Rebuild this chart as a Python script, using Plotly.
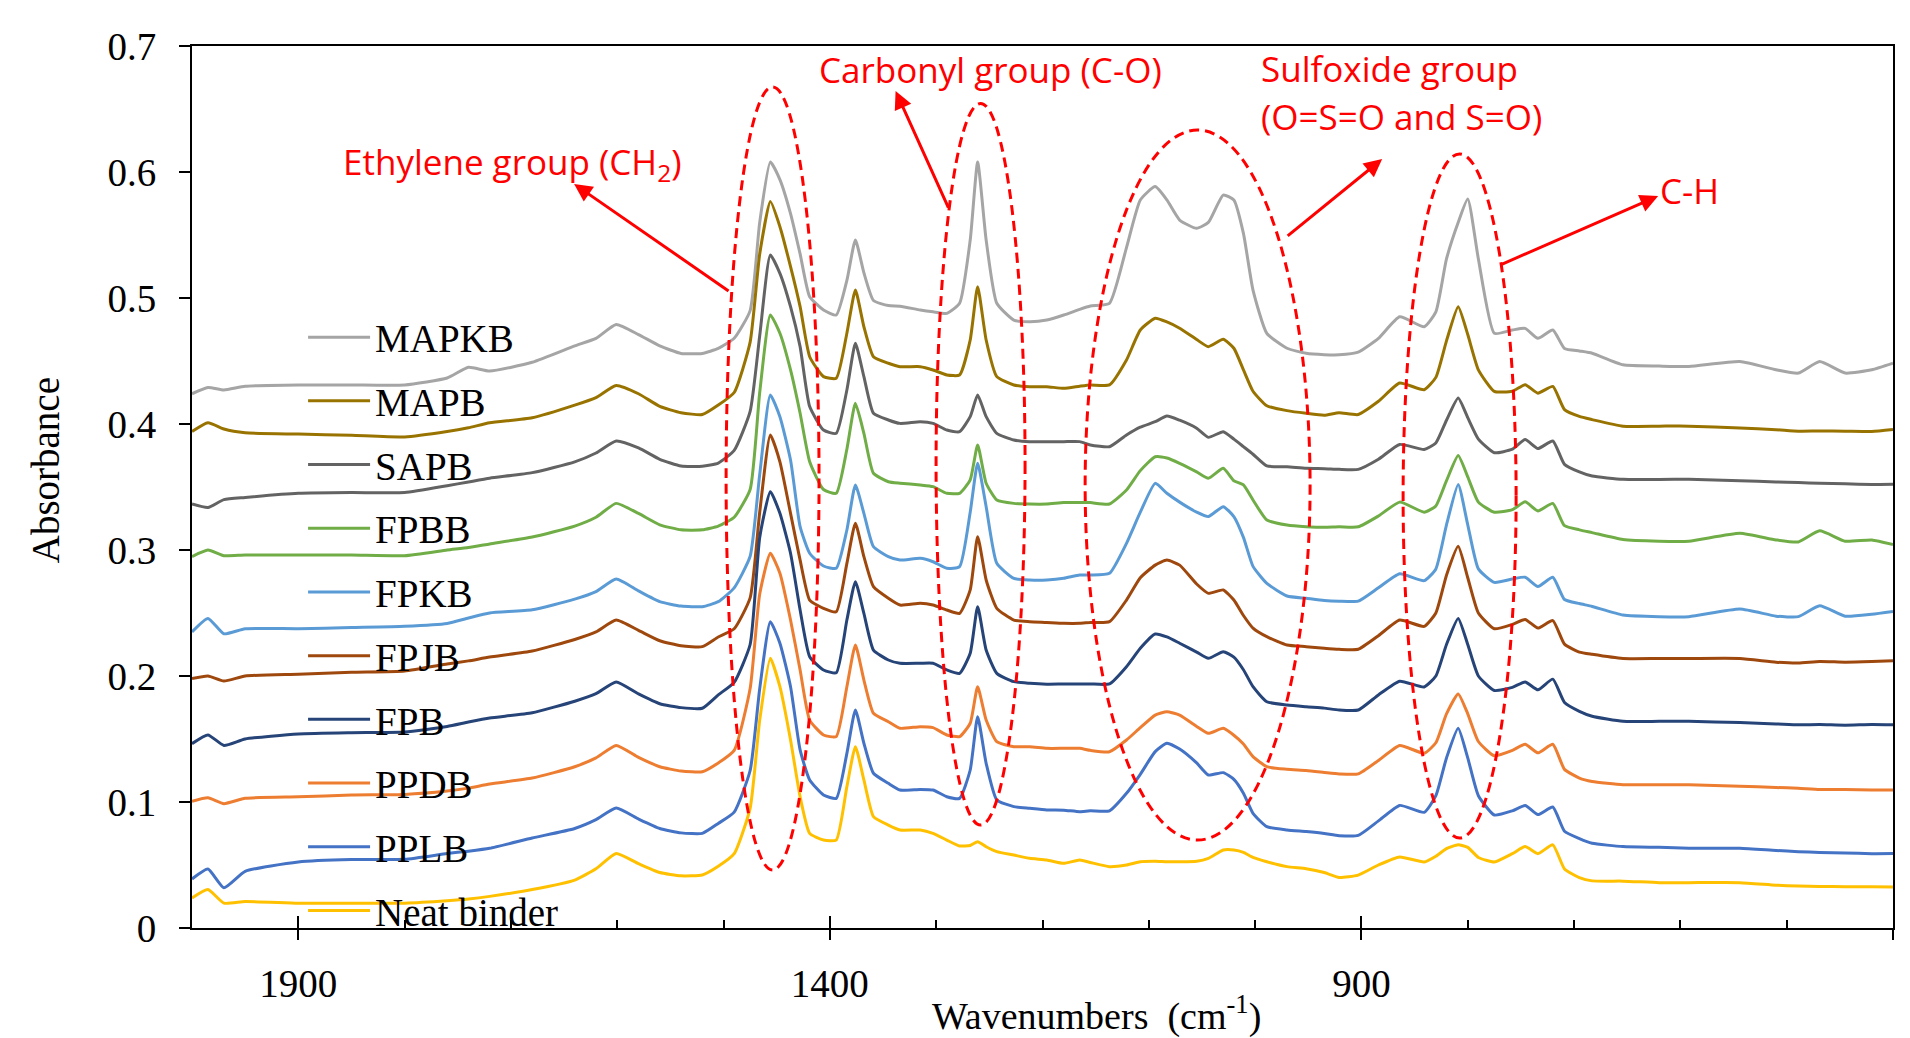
import plotly.graph_objects as go

wavenumbers = [2000, 1985, 1970, 1950, 1900, 1850, 1800, 1760, 1740, 1720,
               1680, 1640, 1620, 1601, 1580, 1560, 1540, 1520, 1505, 1490,
               1475, 1466, 1456, 1447, 1437, 1428, 1419, 1406, 1394, 1384,
               1376, 1368, 1359, 1345, 1334, 1315, 1303, 1290, 1278, 1268,
               1261, 1253, 1243, 1227, 1212, 1196, 1180, 1165, 1155, 1137,
               1121, 1108, 1094, 1083, 1071, 1055, 1044, 1030, 1020, 1011,
               1002, 989, 970, 952, 935, 921, 903, 884, 864, 841,
               830, 820, 809, 800, 790, 775, 758, 746, 734, 720,
               709, 695, 683, 654, 620, 592, 544, 510, 489, 469,
               445, 420, 400]

mapkb = [0.424, 0.429, 0.427, 0.430, 0.431, 0.431, 0.431, 0.4365, 0.445, 0.442,
         0.449, 0.462, 0.468, 0.479, 0.471, 0.462, 0.456, 0.456, 0.460, 0.468,
         0.490, 0.560, 0.608, 0.594, 0.567, 0.535, 0.501, 0.4905, 0.4865, 0.514,
         0.546, 0.520, 0.498, 0.494, 0.4935, 0.4905, 0.489, 0.4878, 0.4958, 0.546,
         0.608, 0.546, 0.4958, 0.4825, 0.4812, 0.4825, 0.4865, 0.491, 0.4936, 0.4958,
         0.540, 0.5778, 0.5884, 0.5778, 0.5619, 0.5553, 0.560, 0.5817, 0.5778, 0.5513,
         0.5063, 0.472, 0.4601, 0.4561, 0.455, 0.4549, 0.457, 0.468, 0.4851, 0.4772,
         0.489, 0.531, 0.560, 0.5786, 0.531, 0.472, 0.4746, 0.4759, 0.468, 0.4746,
         0.460, 0.458, 0.4562, 0.447, 0.446, 0.4456, 0.4496, 0.443, 0.4404, 0.4496,
         0.4404, 0.443, 0.4483]

mapb = [0.394, 0.401, 0.396, 0.393, 0.392, 0.391, 0.3897, 0.394, 0.397, 0.401,
        0.405, 0.415, 0.421, 0.4306, 0.424, 0.414, 0.409, 0.4075, 0.415, 0.425,
        0.465, 0.535, 0.5765, 0.5566, 0.5249, 0.4931, 0.4534, 0.4376, 0.4363, 0.472,
        0.5063, 0.4772, 0.4534, 0.4482, 0.4455, 0.4455, 0.4429, 0.4389, 0.4389, 0.4667,
        0.509, 0.4667, 0.4376, 0.431, 0.4296, 0.4296, 0.4283, 0.430, 0.431, 0.431,
        0.4508, 0.4746, 0.4839, 0.481, 0.476, 0.467, 0.4614, 0.4672, 0.4601, 0.443,
        0.426, 0.4145, 0.4106, 0.4085, 0.407, 0.409, 0.4075, 0.418, 0.4325, 0.4272,
        0.437, 0.466, 0.493, 0.471, 0.443, 0.4259, 0.426, 0.4312, 0.4245, 0.4298,
        0.4114, 0.406, 0.4035, 0.3983, 0.3983, 0.3983, 0.3969, 0.3955, 0.3943, 0.3945,
        0.3943, 0.394, 0.3956]

sapb = [0.3365, 0.3337, 0.340, 0.3417, 0.345, 0.3456, 0.3456, 0.351, 0.354, 0.357,
        0.3614, 0.370, 0.377, 0.3865, 0.381, 0.372, 0.3667, 0.3665, 0.369, 0.379,
        0.410, 0.470, 0.5341, 0.5196, 0.4931, 0.4614, 0.4138, 0.3952, 0.3926, 0.427,
        0.464, 0.4376, 0.4085, 0.4032, 0.4005, 0.4018, 0.4005, 0.3952, 0.3939, 0.4058,
        0.423, 0.4058, 0.3926, 0.3873, 0.386, 0.386, 0.386, 0.386, 0.3833, 0.382,
        0.3913, 0.3975, 0.4018, 0.4063, 0.403, 0.3966, 0.3894, 0.3939, 0.388, 0.382,
        0.376, 0.3667, 0.3661, 0.3648, 0.3645, 0.364, 0.364, 0.372, 0.3838, 0.3798,
        0.385, 0.403, 0.4206, 0.405, 0.388, 0.3772, 0.380, 0.3877, 0.3805, 0.3865,
        0.368, 0.362, 0.3587, 0.3561, 0.356, 0.3561, 0.355, 0.354, 0.3535, 0.353,
        0.3525, 0.352, 0.3522]

fpbb = [0.2948, 0.300, 0.2955, 0.296, 0.296, 0.296, 0.2955, 0.300, 0.302, 0.3048,
        0.3103, 0.319, 0.326, 0.337, 0.329, 0.320, 0.316, 0.316, 0.319, 0.326,
        0.348, 0.425, 0.4865, 0.472, 0.4429, 0.4085, 0.370, 0.348, 0.345, 0.380,
        0.4164, 0.3926, 0.3609, 0.3542, 0.353, 0.3516, 0.3503, 0.345, 0.345, 0.3556,
        0.3833, 0.353, 0.3397, 0.337, 0.3365, 0.3365, 0.3376, 0.3376, 0.3376, 0.3365,
        0.3476, 0.363, 0.374, 0.373, 0.3688, 0.362, 0.3569, 0.3648, 0.355, 0.3516,
        0.3397, 0.3238, 0.3198, 0.3185, 0.318, 0.3184, 0.3184, 0.327, 0.338, 0.330,
        0.335, 0.355, 0.375, 0.358, 0.338, 0.330, 0.332, 0.3383, 0.331, 0.337,
        0.3193, 0.316, 0.3138, 0.3083, 0.307, 0.307, 0.3133, 0.308, 0.3064, 0.3152,
        0.307, 0.308, 0.3043]

fpkb = [0.235, 0.2457, 0.2335, 0.2375, 0.2375, 0.2385, 0.2395, 0.2417, 0.246, 0.250,
        0.2525, 0.261, 0.267, 0.277, 0.2675, 0.259, 0.2555, 0.255, 0.259, 0.270,
        0.295, 0.360, 0.423, 0.4058, 0.3714, 0.3185, 0.2974, 0.2873, 0.2855, 0.3159,
        0.3516, 0.3291, 0.3026, 0.2947, 0.292, 0.2934, 0.2907, 0.2855, 0.2868, 0.330,
        0.3688, 0.3344, 0.2894, 0.2775, 0.2762, 0.2762, 0.2775, 0.2802, 0.2802, 0.2815,
        0.3053, 0.330, 0.3529, 0.345, 0.338, 0.330, 0.3265, 0.3344, 0.3265, 0.310,
        0.287, 0.2735, 0.2635, 0.2617, 0.260, 0.2594, 0.2594, 0.270, 0.2811, 0.2757,
        0.285, 0.320, 0.352, 0.320, 0.285, 0.2743, 0.277, 0.2784, 0.271, 0.2784,
        0.2607, 0.2575, 0.2552, 0.2484, 0.2471, 0.2471, 0.2531, 0.2475, 0.2471, 0.2558,
        0.2475, 0.249, 0.2512]

fpjb = [0.198, 0.200, 0.196, 0.200, 0.2014, 0.203, 0.204, 0.2095, 0.212, 0.215,
        0.2198, 0.229, 0.235, 0.2444, 0.2362, 0.228, 0.224, 0.2233, 0.231, 0.2375,
        0.262, 0.330, 0.3913, 0.370, 0.3291, 0.292, 0.2603, 0.2537, 0.251, 0.2894,
        0.3212, 0.2947, 0.2709, 0.2617, 0.2563, 0.2577, 0.2563, 0.2524, 0.2497, 0.2683,
        0.3106, 0.2762, 0.2537, 0.2444, 0.2431, 0.2425, 0.2418, 0.2418, 0.2425, 0.2431,
        0.2603, 0.278, 0.288, 0.292, 0.288, 0.273, 0.2656, 0.2683, 0.2603, 0.248,
        0.238, 0.2312, 0.2246, 0.2233, 0.222, 0.2212, 0.2212, 0.232, 0.2444, 0.2394,
        0.250, 0.280, 0.3029, 0.278, 0.250, 0.2375, 0.241, 0.2449, 0.238, 0.244,
        0.2253, 0.219, 0.2172, 0.2139, 0.2139, 0.2139, 0.2139, 0.211, 0.2103, 0.2115,
        0.211, 0.2115, 0.2122]

fpb = [0.1463, 0.1532, 0.1449, 0.150, 0.154, 0.155, 0.1555, 0.160, 0.1635, 0.1667,
       0.1708, 0.180, 0.186, 0.1953, 0.1858, 0.178, 0.1749, 0.1744, 0.185, 0.195,
       0.225, 0.310, 0.3463, 0.3291, 0.2974, 0.2524, 0.2153, 0.2048, 0.2026, 0.2444,
       0.2749, 0.2497, 0.2206, 0.2127, 0.2101, 0.2101, 0.2101, 0.2048, 0.2021, 0.218,
       0.255, 0.2206, 0.2021, 0.1955, 0.1942, 0.1935, 0.1937, 0.1937, 0.1937, 0.1937,
       0.2074, 0.222, 0.2333, 0.231, 0.226, 0.219, 0.214, 0.2193, 0.215, 0.205,
       0.1915, 0.1796, 0.177, 0.1756, 0.1745, 0.173, 0.173, 0.185, 0.1959, 0.1913,
       0.200, 0.225, 0.2457, 0.225, 0.200, 0.1885, 0.191, 0.1953, 0.189, 0.1975,
       0.179, 0.172, 0.1681, 0.164, 0.164, 0.164, 0.163, 0.162, 0.1613, 0.1615,
       0.161, 0.1615, 0.1613]

ppdb = [0.1006, 0.1033, 0.0987, 0.103, 0.1041, 0.1055, 0.106, 0.1087, 0.111, 0.1143,
        0.119, 0.128, 0.135, 0.1449, 0.1354, 0.128, 0.1246, 0.124, 0.131, 0.141,
        0.190, 0.265, 0.2974, 0.2815, 0.2444, 0.2048, 0.165, 0.1532, 0.1519, 0.1915,
        0.2246, 0.1968, 0.1704, 0.1637, 0.1585, 0.1598, 0.159, 0.1532, 0.1519, 0.1625,
        0.1915, 0.165, 0.1479, 0.1439, 0.1439, 0.1426, 0.1426, 0.1426, 0.141, 0.1399,
        0.1492, 0.159, 0.169, 0.1717, 0.169, 0.160, 0.1545, 0.1585, 0.153, 0.146,
        0.136, 0.128, 0.126, 0.125, 0.1235, 0.1223, 0.1223, 0.133, 0.1449, 0.1387,
        0.147, 0.170, 0.1858, 0.170, 0.148, 0.1367, 0.141, 0.1458, 0.139, 0.1458,
        0.1259, 0.119, 0.1163, 0.1137, 0.1137, 0.1137, 0.1125, 0.1115, 0.1109, 0.110,
        0.110, 0.1095, 0.1095]

pplb = [0.0389, 0.0468, 0.0319, 0.045, 0.0524, 0.0543, 0.0545, 0.0591, 0.061, 0.0633,
        0.0714, 0.079, 0.086, 0.0952, 0.0865, 0.079, 0.0755, 0.0751, 0.083, 0.092,
        0.125, 0.190, 0.2431, 0.226, 0.1915, 0.1413, 0.1175, 0.1056, 0.1029, 0.1386,
        0.173, 0.1466, 0.1228, 0.1148, 0.1095, 0.110, 0.1095, 0.1042, 0.1029, 0.1254,
        0.1677, 0.1307, 0.1016, 0.0963, 0.095, 0.0937, 0.0935, 0.0923, 0.093, 0.093,
        0.1069, 0.122, 0.140, 0.1466, 0.142, 0.131, 0.1214, 0.1233, 0.118, 0.107,
        0.091, 0.0804, 0.0778, 0.0765, 0.075, 0.0733, 0.0735, 0.085, 0.0973, 0.0918,
        0.105, 0.135, 0.1586, 0.135, 0.105, 0.0897, 0.093, 0.0973, 0.090, 0.096,
        0.0768, 0.071, 0.0673, 0.0646, 0.064, 0.0633, 0.0633, 0.0615, 0.0606, 0.060,
        0.0595, 0.059, 0.0591]

neat = [0.0238, 0.0305, 0.0197, 0.021, 0.0197, 0.0197, 0.0197, 0.0216, 0.023, 0.0251,
        0.0305, 0.038, 0.047, 0.0591, 0.051, 0.044, 0.0414, 0.0421, 0.049, 0.059,
        0.095, 0.165, 0.214, 0.1915, 0.1492, 0.1042, 0.0751, 0.0698, 0.0698, 0.1122,
        0.1439, 0.1175, 0.0884, 0.0817, 0.0778, 0.0778, 0.0751, 0.0698, 0.0651, 0.0655,
        0.0685, 0.0645, 0.0606, 0.0579, 0.0553, 0.054, 0.0513, 0.054, 0.052, 0.0487,
        0.050, 0.0526, 0.053, 0.0526, 0.0526, 0.053, 0.0553, 0.0619, 0.0619, 0.060,
        0.056, 0.0526, 0.0487, 0.047, 0.044, 0.0401, 0.042, 0.050, 0.0564, 0.0524,
        0.057, 0.063, 0.066, 0.064, 0.056, 0.0524, 0.059, 0.0646, 0.059, 0.066,
        0.0469, 0.040, 0.0374, 0.0372, 0.036, 0.036, 0.036, 0.034, 0.0333, 0.033,
        0.0328, 0.0327, 0.0325]

series_names = ["MAPKB", "MAPB", "SAPB", "FPBB", "FPKB", "FPJB", "FPB", "PPDB", "PPLB", "Neat binder"]
series_values = [mapkb, mapb, sapb, fpbb, fpkb, fpjb, fpb, ppdb, pplb, neat]
series_colors = ["#A5A5A5", "#997300", "#636363", "#70AD47", "#5B9BD5",
                 "#9E480E", "#264478", "#ED7D31", "#4472C4", "#FFC000"]

major_ticks = [1900, 1400, 900, 400]
minor_ticks = [1800, 1700, 1600, 1500, 1300, 1200, 1100, 1000, 800, 700, 600, 500]

fig = go.Figure()
for name, vals, color in zip(series_names, series_values, series_colors):
    fig.add_trace(go.Scatter(x=wavenumbers, y=vals, mode="lines", name=name,
                             legendgroup=name,
                             line=dict(color=color, width=3, shape="spline", smoothing=0.5)))

# empty trace hosting the overlay axis that carries the inner half of the major ticks
fig.add_trace(go.Scatter(x=[], y=[], xaxis="x2", yaxis="y", showlegend=False, hoverinfo="skip"))

SERIF = "Liberation Serif"
SANS = "Open Sans"
RED = "#FF0000"

# the page body has an 8px margin, so the figure is made 8px smaller
fig.update_layout(
    width=1902, height=1030,
    margin=dict(l=184, r=17, t=38, b=110),
    paper_bgcolor="white", plot_bgcolor="white",
    font=dict(family=SERIF, size=39, color="black"),
    showlegend=True,
    legend=dict(x=0.0653, y=0.706, xanchor="left", yanchor="top",
                bgcolor="rgba(0,0,0,0)", font=dict(family=SERIF, size=39, color="black"),
                tracegroupgap=10, traceorder="grouped", itemwidth=62),
    xaxis=dict(range=[2000, 400], autorange=False, tickmode="array", tickvals=major_ticks,
               ticks="outside", ticklen=10, tickwidth=2, tickcolor="black",
               showline=True, linewidth=2, linecolor="black", mirror=True,
               showgrid=False, zeroline=False, ticklabelstandoff=10,
               tickfont=dict(family=SERIF, size=39, color="black"),
               minor=dict(tickmode="array", tickvals=minor_ticks, ticks="inside", ticklen=8,
                          tickwidth=2, tickcolor="black", showgrid=False)),
    xaxis2=dict(range=[2000, 400], autorange=False, overlaying="x", anchor="y", side="bottom",
                tickmode="array", tickvals=major_ticks, ticks="inside", ticklen=12, tickwidth=2,
                tickcolor="black", showticklabels=False, showline=False, showgrid=False,
                zeroline=False),
    yaxis=dict(range=[0, 0.7], autorange=False, tick0=0, dtick=0.1,
               ticks="outside", ticklen=11, tickwidth=2, tickcolor="black",
               showline=True, linewidth=2, linecolor="black", mirror=True,
               showgrid=False, zeroline=False, ticklabelstandoff=15,
               tickfont=dict(family=SERIF, size=39, color="black")),
)

# dashed ellipses marking the bands
ellipses = [(1497.6, 1410.2, 0.046, 0.6675),
            (1300.1, 1216.4, 0.0817, 0.6544),
            (1159.9, 948.3, 0.0698, 0.6333),
            (860.8, 754.5, 0.0714, 0.6143)]
for x0, x1, y0, y1 in ellipses:
    fig.add_shape(type="circle", xref="x", yref="y", x0=x0, x1=x1, y0=y0, y1=y1,
                  line=dict(color=RED, width=3, dash="10px,6px"), layer="above")

# arrows: (tip x, tip y, tail x, tail y)
arrows = [(1640.6, 0.5905, 1493.9, 0.5048),
          (1338.2, 0.6643, 1287.9, 0.5706),
          (880.5, 0.6103, 970.8, 0.5484),
          (620.9, 0.581, 769.5, 0.5262)]
for tx, ty, sx, sy in arrows:
    fig.add_annotation(x=tx, y=ty, xref="x", yref="y", ax=sx, ay=sy, axref="x", ayref="y",
                       text="", showarrow=True, arrowhead=2, arrowsize=1.2, arrowwidth=3,
                       arrowcolor=RED, standoff=0, startstandoff=0)

labels = [("Ethylene group (CH<sub>2</sub>)", 1860, 0.607),
          ("Carbonyl group (C-O)", 1412, 0.681),
          ("Sulfoxide group", 996, 0.682),
          ("(O=S=O and S=O)", 996, 0.644),
          ("C-H", 621, 0.585)]
for txt, x, y in labels:
    fig.add_annotation(x=x, y=y, xref="x", yref="y", text=txt, showarrow=False,
                       xanchor="left", yanchor="middle", align="left",
                       font=dict(family=SANS, size=35, color=RED))

fig.add_annotation(x=-0.0864, y=0.519, xref="paper", yref="paper", text="Absorbance",
                   textangle=-90, showarrow=False, xanchor="center", yanchor="middle",
                   font=dict(family=SERIF, size=39, color="black"))
fig.add_annotation(x=0.5315, y=-0.0965, xref="paper", yref="paper",
                   text="Wavenumbers\u00a0 (cm<sup>-1</sup>)",
                   showarrow=False, xanchor="center", yanchor="middle",
                   font=dict(family=SERIF, size=38, color="black"))

fig.write_html("out.html")
